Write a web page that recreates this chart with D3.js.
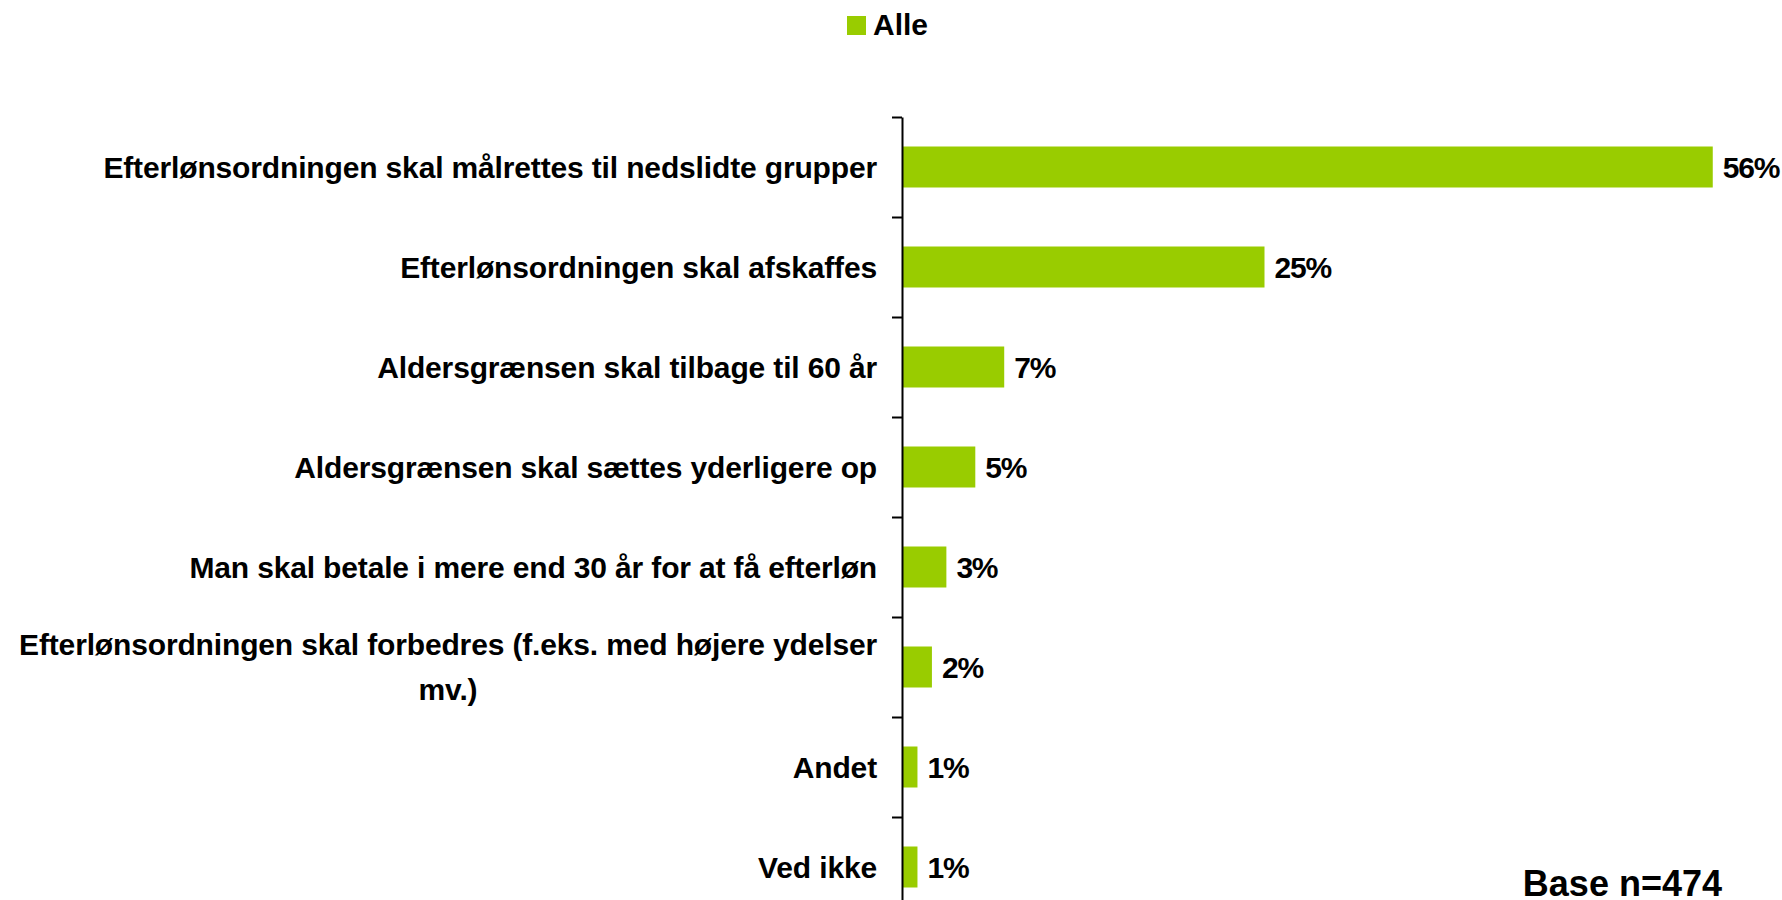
<!DOCTYPE html>
<html>
<head>
<meta charset="utf-8">
<script src="https://cdn.jsdelivr.net/npm/d3@7"></script>
<style>
  html, body { margin: 0; padding: 0; background: #ffffff; }
  svg { display: block; }
  text { font-family: "Liberation Sans", Arial, Helvetica, sans-serif; font-weight: bold; fill: #000; }
</style>
</head>
<body>
<svg id="chart" width="1782" height="900"></svg>
<script>
// ---- data ----
const categories = [
  "Efterlønsordningen skal målrettes til nedslidte grupper",
  "Efterlønsordningen skal afskaffes",
  "Aldersgrænsen skal tilbage til 60 år",
  "Aldersgrænsen skal sættes yderligere op",
  "Man skal betale i mere end 30 år for at få efterløn",
  "Efterlønsordningen skal forbedres (f.eks. med højere ydelser mv.)",
  "Andet",
  "Ved ikke"
];
const values = [56, 25, 7, 5, 3, 2, 1, 1];
const seriesName = "Alle";
const baseNote = "Base n=474";

(function () {
// ---- layout ----
const axisX = 902;
const plotTop = 117, plotBottom = 917;
const green = "#99CC00";

const svg = d3.select("#chart");

const x = d3.scaleLinear().domain([0, 60]).range([axisX + 1, axisX + 1 + 60 * 14.46]);
const y = d3.scaleBand().domain(categories).range([plotTop, plotBottom]).paddingInner(0.59).paddingOuter(0.295);
const yTicks = d3.scaleLinear().domain([0, categories.length]).range([plotTop, plotBottom]);

// bars
svg.append("g").selectAll("rect").data(categories).join("rect")
  .attr("x", x(0))
  .attr("y", d => y(d))
  .attr("width", (d, i) => x(values[i]) - x(0))
  .attr("height", y.bandwidth())
  .attr("fill", green);

// axis (ticks at category boundaries)
const axis = svg.append("g")
  .attr("transform", `translate(${axisX},0)`)
  .call(d3.axisLeft(yTicks).tickValues(d3.range(0, categories.length + 1)).tickFormat("").tickSize(10).tickSizeOuter(0));
axis.select(".domain").attr("stroke", "#000").attr("stroke-width", 2);
axis.selectAll(".tick line").attr("stroke", "#000").attr("stroke-width", 2);

// category labels with wrapping
const labelRight = 877, maxW = 875, lineH = 45, fs = 30, ls = -0.15;
const lg = svg.append("g");
categories.forEach((c, i) => {
  const cy = y(c) + y.bandwidth() / 2;
  const t = lg.append("text").attr("font-size", fs).attr("letter-spacing", ls).attr("text-anchor", "middle");
  const words = c.split(" ");
  const lines = [];
  let cur = [];
  const probe = svg.append("text").attr("font-size", fs).attr("letter-spacing", ls);
  words.forEach(w => {
    const tryLine = cur.concat([w]).join(" ");
    probe.text(tryLine);
    if (probe.node().getComputedTextLength() > maxW && cur.length) {
      lines.push(cur.join(" "));
      cur = [w];
    } else cur.push(w);
  });
  lines.push(cur.join(" "));
  let maxLen = 0;
  lines.forEach(l => { probe.text(l); maxLen = Math.max(maxLen, probe.node().getComputedTextLength()); });
  probe.remove();
  const cx = labelRight - maxLen / 2;
  const startY = cy + 10.5 - (lines.length - 1) * lineH / 2;
  lines.forEach((l, k) => {
    t.append("tspan").attr("x", cx).attr("y", startY + k * lineH).text(l);
  });
});

// value labels
svg.append("g").selectAll("text").data(categories).join("text")
  .attr("x", (d, i) => x(values[i]) + 10)
  .attr("y", d => y(d) + y.bandwidth() / 2 + 10.5)
  .attr("font-size", fs)
  .attr("letter-spacing", -1.2)
  .text((d, i) => values[i] + "%");

// legend
const leg = svg.append("g");
leg.append("rect").attr("x", 847).attr("y", 16).attr("width", 19).attr("height", 19).attr("fill", green);
leg.append("text").attr("x", 873).attr("y", 35).attr("font-size", fs).text(seriesName);

// base note
svg.append("text").attr("x", 1722).attr("y", 896).attr("text-anchor", "end").attr("font-size", 36).text(baseNote);
})();
</script>
</body>
</html>
